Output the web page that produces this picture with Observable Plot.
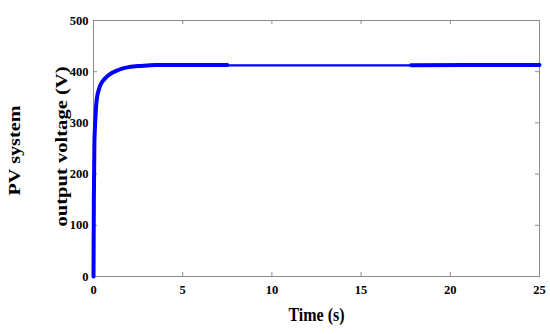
<!DOCTYPE html>
<html>
<head>
<meta charset="utf-8">
<script src="https://cdn.jsdelivr.net/npm/d3@7"></script>
<script src="https://cdn.jsdelivr.net/npm/@observablehq/plot@0.6"></script>
<style>
  html, body { margin: 0; padding: 0; background: #fff; }
  #chart svg { display: block; }
</style>
</head>
<body>
<div id="chart"></div>
<script>
// Time (s) and output voltage (V)
const timeRise = [0, 0.02, 0.05, 0.08, 0.1, 0.15, 0.2, 0.3, 0.4, 0.6, 0.8, 1.0, 1.3, 1.6, 2.0, 2.5, 3.0, 3.5, 4.0, 5.0, 7.5];
const voltRise = [0, 150, 260, 290, 305, 335, 350, 365, 375, 385, 392, 397, 402, 406, 409, 411, 412, 413, 413, 413, 413];
const timeMid = [7.5, 12, 17.8];
const voltMid = [412.5, 412.5, 412.5];
const timeEnd = [17.8, 21, 25];
const voltEnd = [412.5, 413, 413];

const xTicks = [0, 5, 10, 15, 20, 25];
const yTicks = [0, 100, 200, 300, 400, 500];
const xLabel = "Time (s)";
const yLabel = "output voltage (V)";
const yLabel2 = "PV system";

const toRows = (t, v) => t.map((d, i) => ({t: d, v: v[i]}));
const rise = toRows(timeRise, voltRise);
const mid = toRows(timeMid, voltMid);
const end = toRows(timeEnd, voltEnd);

const W = 550, H = 334;
const mL = 93, mR = 11, mT = 20, mB = 58;
const pw = W - mL - mR, ph = H - mT - mB;
const font = "'Liberation Serif', 'Times New Roman', serif";

const chart = Plot.plot({
  width: W,
  height: H,
  marginLeft: mL,
  marginRight: mR,
  marginTop: mT,
  marginBottom: mB,
  style: {fontFamily: font, fontWeight: "bold", fontSize: "12px", background: "#fff", color: "#000"},
  x: {domain: [0, 25]},
  y: {domain: [0, 500]},
  marks: [
    Plot.frame({stroke: "#8c8c8c", strokeWidth: 1}),
    Plot.tickX(xTicks, {x: d => d, insetTop: ph - 4, stroke: "#8c8c8c"}),
    Plot.tickX(xTicks, {x: d => d, insetBottom: ph - 4, stroke: "#8c8c8c"}),
    Plot.tickY(yTicks, {y: d => d, insetRight: pw - 4, stroke: "#8c8c8c"}),
    Plot.tickY(yTicks, {y: d => d, insetLeft: pw - 4, stroke: "#8c8c8c"}),
    Plot.axisX({ticks: xTicks, tickSize: 0, tickPadding: 9, label: null, fontSize: 12.5}),
    Plot.axisY({ticks: yTicks, tickSize: 0, tickPadding: 5, label: null, fontSize: 12.5}),
    Plot.line(rise, {x: "t", y: "v", stroke: "#0000ff", strokeWidth: 4, curve: "monotone-x"}),
    Plot.line(mid, {x: "t", y: "v", stroke: "#0000ff", strokeWidth: 2.2}),
    Plot.line(end, {x: "t", y: "v", stroke: "#0000ff", strokeWidth: 4}),
    Plot.text([xLabel], {frameAnchor: "bottom", lineAnchor: "middle", textAnchor: "middle", dy: 38, text: d => d, fontSize: 19, fontWeight: "bold", fill: "#000"}),
    Plot.text([yLabel], {frameAnchor: "left", lineAnchor: "middle", textAnchor: "middle", dx: -32, dy: -2, rotate: -90, text: d => d, fontSize: 17, fontWeight: "bold", fill: "#000"}),
    Plot.text([yLabel2], {frameAnchor: "left", lineAnchor: "middle", textAnchor: "middle", dx: -79, dy: 2, rotate: -90, text: d => d, fontSize: 17, fontWeight: "bold", fill: "#000"})
  ]
});

// stretch labels to the lengths seen in the reference
const lengths = {[xLabel]: 56, [yLabel]: 160, [yLabel2]: 90};
d3.select(chart).selectAll("text").each(function() {
  const t = this.textContent;
  if (lengths[t] !== undefined) {
    this.setAttribute("textLength", lengths[t]);
    this.setAttribute("lengthAdjust", "spacingAndGlyphs");
  }
});
document.getElementById("chart").appendChild(chart);
</script>
</body>
</html>
